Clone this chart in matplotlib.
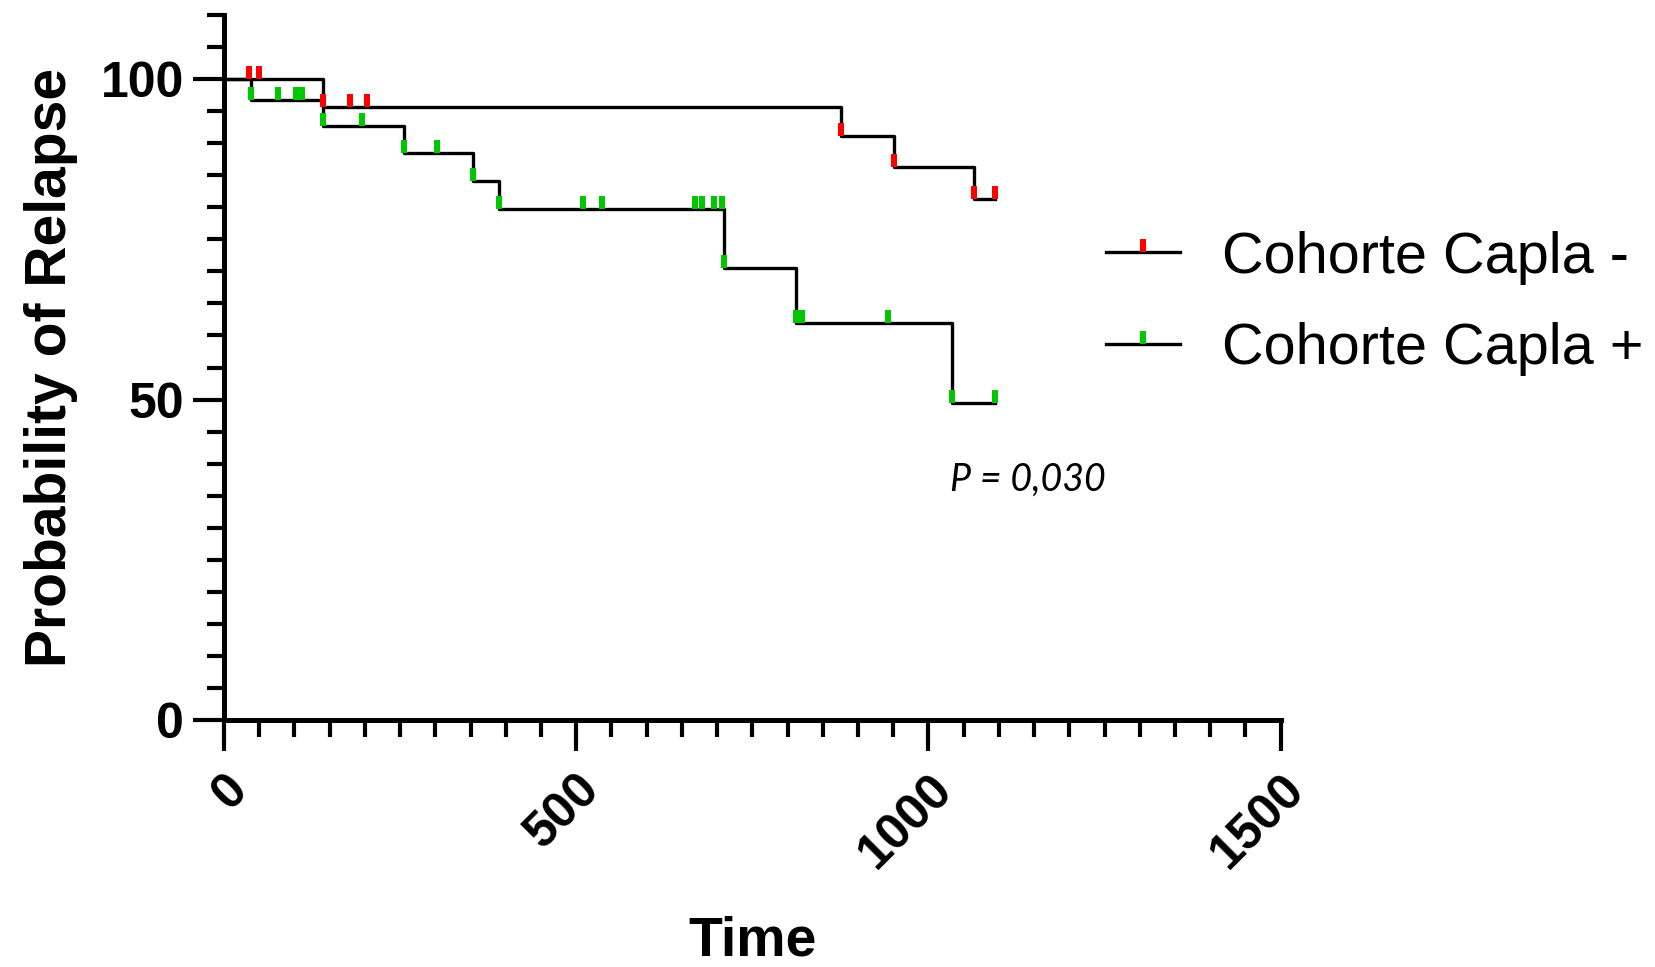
import matplotlib
matplotlib.use('Agg')
import matplotlib.pyplot as plt
from matplotlib.path import Path
from matplotlib.lines import Line2D
from matplotlib.ticker import MultipleLocator, FixedLocator
import numpy as np

# ---- data ----
neg_label = 'Cohorte Capla -'
neg_times = [0, 141, 876, 951, 1065, 1095]
neg_surv = [100, 95.7, 91.1, 86.3, 81.3, 81.3]
neg_mark_times = [36, 49, 141, 179, 203, 876, 951, 1065, 1095]

pos_label = 'Cohorte Capla +'
pos_times = [0, 39, 140, 256, 354, 391, 710, 812, 1034, 1095]
pos_surv = [100, 96.7, 92.7, 88.4, 84.1, 79.7, 70.6, 61.9, 49.5, 49.5]
pos_mark_times = [39, 77, 102, 111, 140, 196, 256, 302, 354, 391, 510, 536,
                  669, 678, 696, 707, 710, 812, 820, 942, 1034, 1095]

x_major = [0, 500, 1000, 1500]
y_major = [0, 50, 100]
p_text = 'P = 0,030'

# ---- style ----
plt.rcParams['font.family'] = ['Liberation Sans', 'DejaVu Sans']
W, H = 1655, 967
fig = plt.figure(figsize=(W / 100, H / 100), dpi=100)
ax_left, ax_right, ax_bottom, ax_top = 224, 1280.7, 720, 15
ax = fig.add_axes([ax_left / W, 1 - ax_bottom / H,
                   (ax_right - ax_left) / W, (ax_bottom - ax_top) / H])

# censor-tick marker: small bar sitting on the line
bar = Path([(-0.23, 0), (0.23, 0), (0.23, 1), (-0.23, 1), (-0.23, 0)],
           [Path.MOVETO, Path.LINETO, Path.LINETO, Path.LINETO, Path.CLOSEPOLY])
MS = 19.4
LW = 2.4
RED = '#ff0000'
GREEN = '#00c800'


def step_value(times, surv, t):
    idx = np.searchsorted(np.asarray(times), t, side='right') - 1
    return np.asarray(surv)[idx]


for times, surv, marks, col in [(pos_times, pos_surv, pos_mark_times, GREEN),
                                (neg_times, neg_surv, neg_mark_times, RED)]:
    ax.step(times, surv, where='post', color='black', lw=LW, zorder=2)
    ax.plot(marks, step_value(times, surv, marks), ls='none', marker=bar,
            ms=MS, color=col, mew=0, zorder=3)

ax.set_xlim(0, 1500)
ax.set_ylim(0, 110)
ax.xaxis.set_major_locator(FixedLocator(x_major))
ax.xaxis.set_minor_locator(MultipleLocator(50))
ax.yaxis.set_major_locator(FixedLocator(y_major))
ax.yaxis.set_minor_locator(MultipleLocator(5))

for s in ['top', 'right']:
    ax.spines[s].set_visible(False)
for s in ['left', 'bottom']:
    ax.spines[s].set_linewidth(3.6)

ax.tick_params(which='major', direction='out', length=22, width=3, pad=7)
ax.tick_params(which='minor', direction='out', length=12, width=3)
ax.tick_params(axis='y', labelsize=36)
ax.tick_params(axis='x', labelsize=36, pad=11)
for lab in ax.get_yticklabels():
    lab.set_fontweight('bold')
ax.set_xticks(x_major)
ax.set_xticklabels([str(v) for v in x_major], rotation=45, ha='right',
                   va='top', rotation_mode='anchor', fontweight='bold')

ax.set_ylabel('Probability of Relapse', fontsize=41, fontweight='bold')
ax.yaxis.set_label_coords(-0.1386, 0.5)
ax.set_xlabel('Time', fontsize=40, fontweight='bold')
ax.xaxis.set_label_coords(0.5, -0.278)

ax.text(1030, 35.7, p_text, fontsize=27, fontstyle='italic',
        family=['Lato', 'DejaVu Sans'], ha='left', va='baseline')

handles = [Line2D([], [], color='black', lw=LW, marker=bar, ms=MS,
                  mfc=RED, mec=RED, mew=0),
           Line2D([], [], color='black', lw=LW, marker=bar, ms=MS,
                  mfc=GREEN, mec=GREEN, mew=0)]
fig.legend(handles, [neg_label, pos_label], loc='center left',
           bbox_to_anchor=(1106 / W, 1 - 303.3 / H), frameon=False,
           fontsize=41.5, handlelength=1.28, handletextpad=0.73,
           labelspacing=0.65, borderpad=0, borderaxespad=0, numpoints=1)

fig.savefig('out.png', dpi=100)
